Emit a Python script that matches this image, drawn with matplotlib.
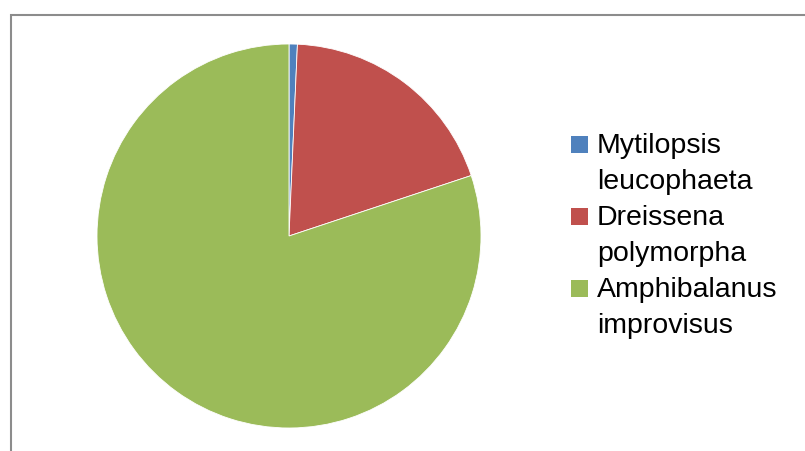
import matplotlib
matplotlib.use("Agg")
import matplotlib.pyplot as plt
from matplotlib.patches import Rectangle

# share of each species
species = ["Mytilopsis\nleucophaeta", "Dreissena\npolymorpha", "Amphibalanus\nimprovisus"]
shares = [0.7, 19.2, 80.1]
colours = ["#4f81bd", "#c0504d", "#9bbb59"]

W, H = 805, 451
fig = plt.figure(figsize=(W / 100, H / 100), dpi=100)

# chart frame, right and bottom edges fall outside the picture
fig.patches.append(Rectangle((10.5 / W, -0.1), 1.2, 1.1 - 14.5 / H,
                             transform=fig.transFigure, fill=False,
                             edgecolor="#8c8c8c", linewidth=1.5))

cx, cy, r = 289, 236, 192
ax = fig.add_axes([(cx - r) / W, (H - cy - r) / H, 2 * r / W, 2 * r / H])
ax.pie(shares, colors=colours, startangle=90, counterclock=False,
       wedgeprops=dict(edgecolor="white", linewidth=0.6))
ax.set_xlim(-1, 1)
ax.set_ylim(-1, 1)
ax.set_aspect("equal")
ax.axis("off")

# legend, Excel style: square on first line of each entry
font = dict(family="Liberation Sans", size=20.5, color="black")
base = 153
step = 36
line = 0
for name, c in zip(species, colours):
    y0 = base + step * line
    fig.patches.append(Rectangle((571 / W, 1 - y0 / H), 17 / W, 17 / H,
                                 transform=fig.transFigure, facecolor=c,
                                 edgecolor="none"))
    for part in name.split("\n"):
        y = base + step * line
        fig.text(597 / W, 1 - y / H, part, va="baseline", ha="left", **font)
        line += 1

fig.savefig("out.png", dpi=100)
